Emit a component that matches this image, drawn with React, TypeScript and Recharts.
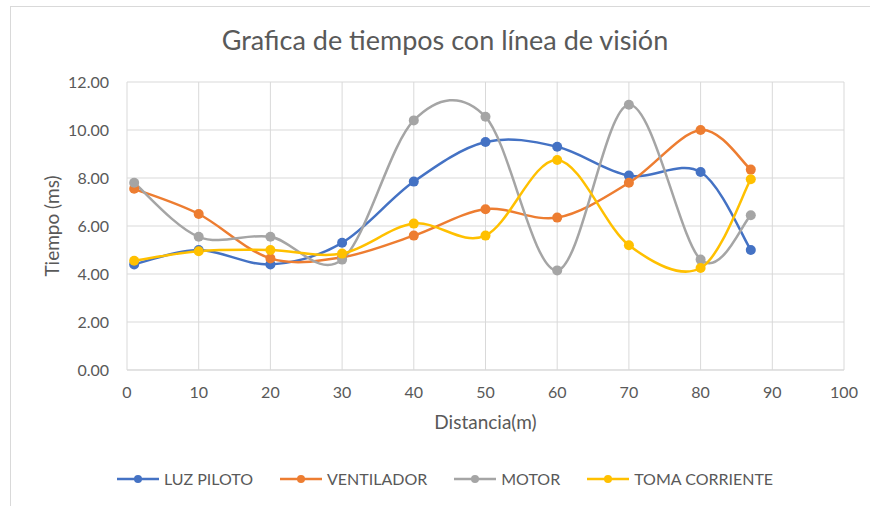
import React from 'react';
import { LineChart, Line, XAxis, YAxis, CartesianGrid } from 'recharts';

// distancia (m) de cada medición
const distances = [1, 10, 20, 30, 40, 50, 60, 70, 80, 87];

// tiempos (ms)
const luzPiloto = [4.4, 5.0, 4.4, 5.3, 7.85, 9.5, 9.3, 8.1, 8.25, 5.0];
const ventilador = [7.55, 6.5, 4.65, 4.7, 5.6, 6.7, 6.35, 7.8, 10.0, 8.35];
const motor = [7.8, 5.55, 5.55, 4.6, 10.4, 10.55, 4.15, 11.05, 4.6, 6.45];
const tomaCorriente = [4.55, 4.95, 5.0, 4.85, 6.1, 5.6, 8.75, 5.2, 4.25, 7.95];

const xTicks = [0, 10, 20, 30, 40, 50, 60, 70, 80, 90, 100];
const yTicks = [0, 2, 4, 6, 8, 10, 12];

const series = [
    { key: 'luz', name: 'LUZ PILOTO', values: luzPiloto, color: '#4472C4' },
    { key: 'ventilador', name: 'VENTILADOR', values: ventilador, color: '#ED7D31' },
    { key: 'motor', name: 'MOTOR', values: motor, color: '#A5A5A5' },
    { key: 'toma', name: 'TOMA CORRIENTE', values: tomaCorriente, color: '#FFC000' },
];

const data = distances.map((d, i) => {
    const row: Record<string, number> = { distancia: d };
    series.forEach((s) => {
        row[s.key] = s.values[i];
    });
    return row;
});

// suavizado tipo Excel (Catmull-Rom uniforme)
const excelSmooth = (context: any) => {
    let xs: number[] = [];
    let ys: number[] = [];
    return {
        areaStart() {},
        areaEnd() {},
        lineStart() {
            xs = [];
            ys = [];
        },
        point(x: number, y: number) {
            xs.push(+x);
            ys.push(+y);
        },
        lineEnd() {
            const n = xs.length;
            if (!n) return;
            context.moveTo(xs[0], ys[0]);
            for (let i = 0; i < n - 1; i++) {
                const p = Math.max(i - 1, 0);
                const q = Math.min(i + 2, n - 1);
                context.bezierCurveTo(
                    xs[i] + (xs[i + 1] - xs[p]) / 6,
                    ys[i] + (ys[i + 1] - ys[p]) / 6,
                    xs[i + 1] - (xs[q] - xs[i]) / 6,
                    ys[i + 1] - (ys[q] - ys[i]) / 6,
                    xs[i + 1],
                    ys[i + 1]
                );
            }
        },
    };
};

const FONT = 'Lato, "Open Sans", sans-serif';
const TEXT = '#595959';

const LegendRow: React.FC = () => (
    <div
        style={{
            position: 'absolute',
            left: 10,
            width: 870,
            top: 469,
            display: 'flex',
            justifyContent: 'center',
            gap: 27,
            fontFamily: FONT,
            fontSize: 16,
            color: TEXT,
        }}
    >
        {series.map((s) => (
            <div key={s.key} style={{ display: 'flex', alignItems: 'center', gap: 5 }}>
                <svg width={42} height={12}>
                    <line x1={0} y1={6} x2={42} y2={6} stroke={s.color} strokeWidth={2.5} />
                    <circle cx={21} cy={6} r={4} fill={s.color} />
                </svg>
                <span>{s.name}</span>
            </div>
        ))}
    </div>
);

export default function App() {
    return (
        <div style={{ position: 'absolute', left: 0, top: 0, width: 870, height: 506, background: '#fff' }}>
            <div
                style={{
                    position: 'absolute',
                    left: 10,
                    top: 6,
                    width: 880,
                    height: 520,
                    border: '1px solid #d9d9d9',
                }}
            />
            <div
                style={{
                    position: 'absolute',
                    left: 10,
                    width: 870,
                    top: 23,
                    textAlign: 'center',
                    fontFamily: FONT,
                    fontSize: 27,
                    color: TEXT,
                }}
            >
                Grafica de tiempos con línea de visión
            </div>
            <LineChart
                width={870}
                height={506}
                data={data}
                margin={{ top: 82, right: 26, left: 0, bottom: 0 }}
                style={{ position: 'absolute', left: 0, top: 0, fontFamily: FONT }}
            >
                <CartesianGrid stroke="#d9d9d9" strokeWidth={1} />
                <XAxis
                    dataKey="distancia"
                    type="number"
                    domain={[0, 100]}
                    ticks={xTicks}
                    height={136}
                    axisLine={{ stroke: '#d9d9d9' }}
                    tickLine={false}
                    tickMargin={11}
                    tick={{ fill: TEXT, fontSize: 16 }}
                    label={{ value: 'Distancia(m)', position: 'insideTop', offset: 46, fill: TEXT, fontSize: 19 }}
                />
                <YAxis
                    type="number"
                    domain={[0, 12]}
                    ticks={yTicks}
                    width={127}
                    axisLine={false}
                    tickLine={false}
                    tickMargin={12}
                    tick={{ fill: TEXT, fontSize: 16 }}
                    tickFormatter={(v: number) => v.toFixed(2)}
                    label={{
                        value: 'Tiempo (ms)',
                        angle: -90,
                        position: 'insideLeft',
                        offset: 52,
                        fill: TEXT,
                        fontSize: 19,
                        style: { textAnchor: 'middle' },
                    }}
                />
                {series.map((s) => (
                    <Line
                        key={s.key}
                        dataKey={s.key}
                        name={s.name}
                        type={excelSmooth as any}
                        stroke={s.color}
                        strokeWidth={2.5}
                        dot={{ r: 5, fill: s.color, stroke: s.color, strokeWidth: 0 }}
                        activeDot={false}
                        isAnimationActive={false}
                    />
                ))}
            </LineChart>
            <LegendRow />
        </div>
    );
}
